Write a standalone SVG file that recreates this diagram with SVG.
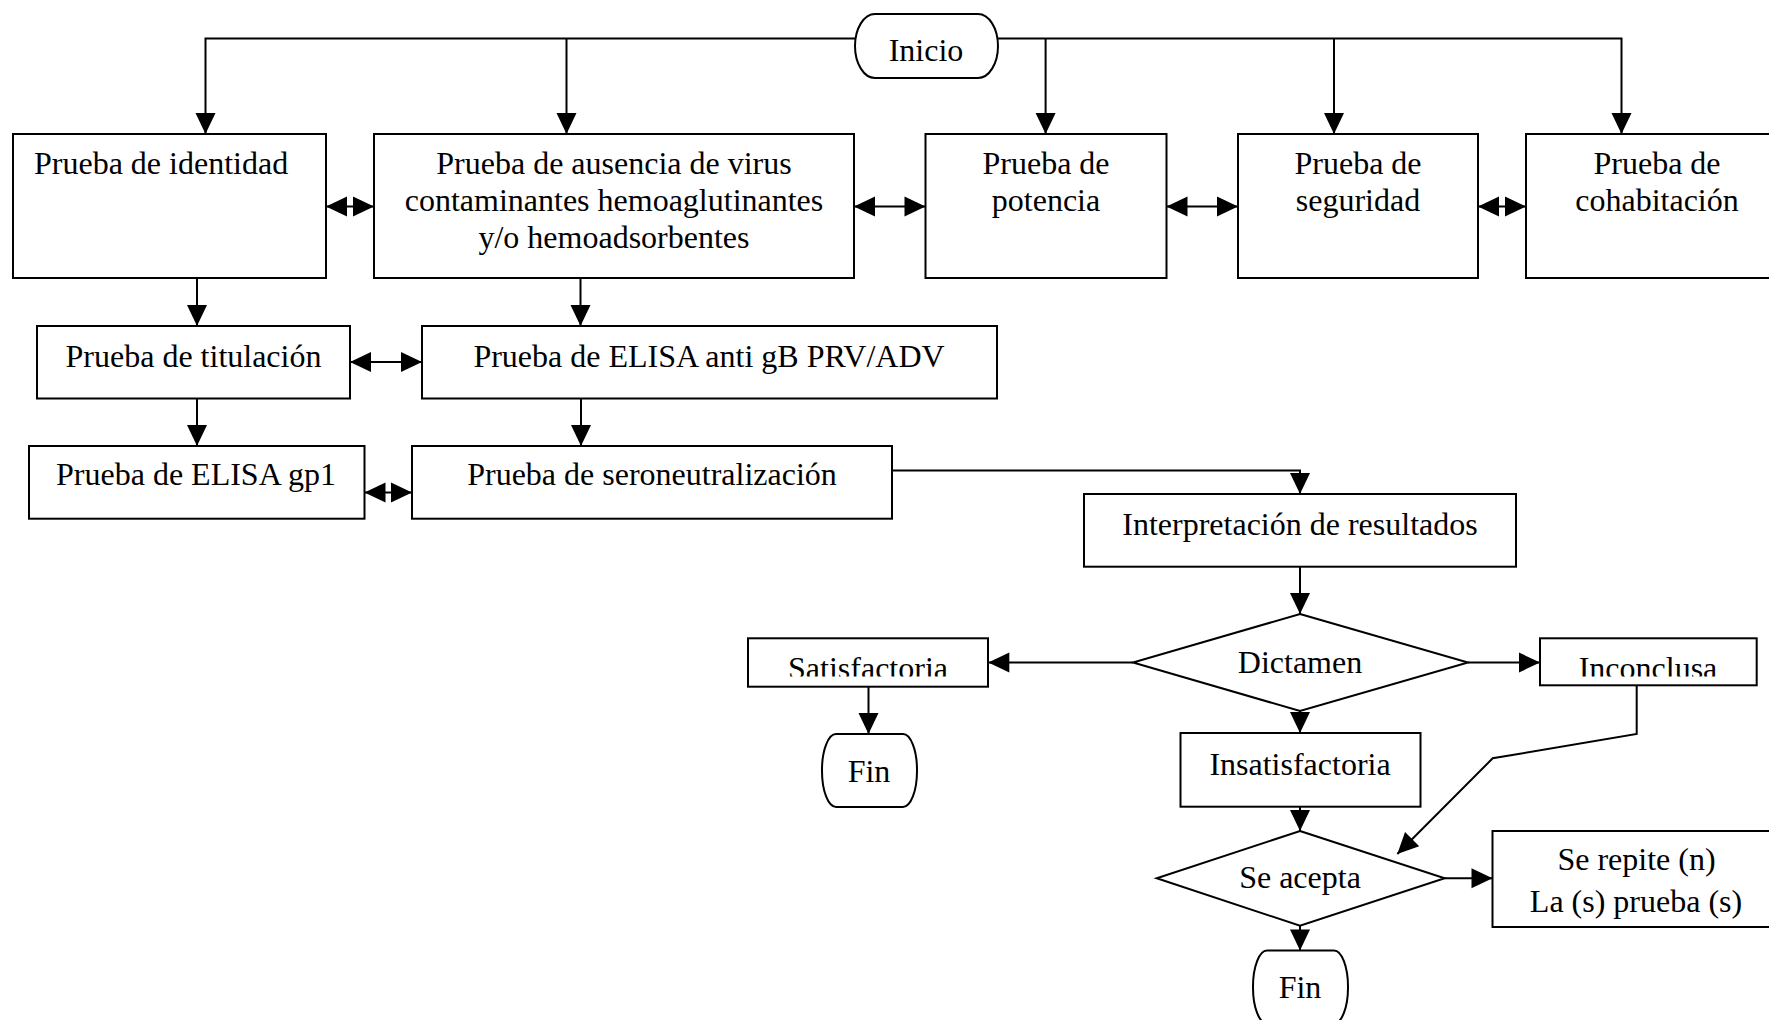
<svg xmlns="http://www.w3.org/2000/svg" width="1769" height="1020" viewBox="0 0 1769 1020">
<style>
.b{fill:#fff;stroke:#000;stroke-width:2}
.t{font-family:"Liberation Serif","Times New Roman",serif;font-size:32px;fill:#000;text-anchor:middle}
.c{fill:none;stroke:#000;stroke-width:2}
.a{marker-end:url(#ah)}
.d{marker-start:url(#ah);marker-end:url(#ah)}
</style>
<defs>
<marker id="ah" markerUnits="userSpaceOnUse" markerWidth="21" markerHeight="20" refX="21" refY="10" orient="auto-start-reverse" overflow="visible">
<path d="M0,0 L21,10 L0,20 Z" fill="#000"/>
</marker>
<clipPath id="cs"><rect x="748" y="638" width="240" height="38.5"/></clipPath>
<clipPath id="ci"><rect x="1540" y="638" width="217" height="38.5"/></clipPath>
</defs>

<g id="connectors">
<path class="c a" d="M855,38.5 H205.5 V134"/>
<path class="c a" d="M566.5,38.5 V134"/>
<path class="c a" d="M998,38.5 H1621.5 V134"/>
<path class="c a" d="M1045.6,38.5 V134"/>
<path class="c a" d="M1334,38.5 V134"/>
<path class="c d" d="M326,206.5 H374"/>
<path class="c d" d="M854,206.5 H925.5"/>
<path class="c d" d="M1166.5,206.5 H1238"/>
<path class="c d" d="M1478,206.5 H1526"/>
<path class="c a" d="M197,278 V326"/>
<path class="c a" d="M580.5,278 V326"/>
<path class="c d" d="M350,362 H422"/>
<path class="c a" d="M197,398.5 V446"/>
<path class="c a" d="M581,398.5 V446"/>
<path class="c d" d="M364.5,492.5 H412"/>
<path class="c a" d="M892,470.5 H1300 V494"/>
<path class="c a" d="M1300,566.7 V614"/>
<path class="c a" d="M1133,662.5 H988.3"/>
<path class="c a" d="M1468,662.5 H1540"/>
<path class="c a" d="M868.5,686.7 V734"/>
<path class="c a" d="M1300,710.7 V733"/>
<path class="c a" d="M1636.7,685 V734 L1492.7,758.3 L1397.3,854"/>
<path class="c a" d="M1300,806.7 V831"/>
<path class="c a" d="M1444.7,878.3 H1492.5"/>
<path class="c a" d="M1300,925.7 V950.5"/>
</g>

<g id="inicio"><rect class="b" x="855" y="14" width="143" height="64" rx="20" ry="32"/><text class="t" x="926" y="61">Inicio</text></g>
<g id="identidad"><rect class="b" x="13" y="134" width="313" height="144"/><text class="t" x="34" y="174" style="text-anchor:start">Prueba de identidad</text></g>
<g id="ausencia"><rect class="b" x="374" y="134" width="480" height="144"/><text class="t" x="614" y="174">Prueba de ausencia de virus</text><text class="t" x="614" y="211">contaminantes hemoaglutinantes</text><text class="t" x="614" y="248">y/o hemoadsorbentes</text></g>
<g id="potencia"><rect class="b" x="925.5" y="134" width="241" height="144"/><text class="t" x="1046" y="174">Prueba de</text><text class="t" x="1046" y="211">potencia</text></g>
<g id="seguridad"><rect class="b" x="1238" y="134" width="240" height="144"/><text class="t" x="1358" y="174">Prueba de</text><text class="t" x="1358" y="211">seguridad</text></g>
<g id="cohabitacion"><rect class="b" x="1526" y="134" width="270" height="144"/><text class="t" x="1657" y="174">Prueba de</text><text class="t" x="1657" y="211">cohabitación</text></g>
<g id="titulacion"><rect class="b" x="37" y="326" width="313" height="72.5"/><text class="t" x="193.5" y="367">Prueba de titulación</text></g>
<g id="elisa-anti"><rect class="b" x="422" y="326" width="575" height="72.5"/><text class="t" x="709" y="367">Prueba de ELISA anti gB PRV/ADV</text></g>
<g id="elisa-gp1"><rect class="b" x="29" y="446" width="335.5" height="72.7"/><text class="t" x="196" y="485">Prueba de ELISA gp1</text></g>
<g id="sero"><rect class="b" x="412" y="446" width="480" height="72.7"/><text class="t" x="652" y="485">Prueba de seroneutralización</text></g>
<g id="interpretacion"><rect class="b" x="1084" y="494" width="432" height="72.7"/><text class="t" x="1300" y="535">Interpretación de resultados</text></g>
<g id="dictamen"><polygon class="b" points="1300,614 1468,662.5 1300,711 1133,662.5"/><text class="t" x="1300" y="673">Dictamen</text></g>
<g id="satisfactoria"><rect class="b" x="748" y="638.3" width="240" height="48.4"/><text class="t" x="868" y="679" clip-path="url(#cs)">Satisfactoria</text></g>
<g id="inconclusa"><rect class="b" x="1540" y="638.3" width="216.7" height="47"/><text class="t" x="1648" y="679" clip-path="url(#ci)">Inconclusa</text></g>
<g id="fin1"><rect class="b" x="822" y="734" width="95" height="73" rx="14" ry="36"/><text class="t" x="869" y="782">Fin</text></g>
<g id="insatisfactoria"><rect class="b" x="1180.5" y="733" width="240" height="73.7"/><text class="t" x="1300" y="775">Insatisfactoria</text></g>
<g id="se-acepta"><polygon class="b" points="1300,831 1444.7,878.3 1300,925.7 1156.7,878.3"/><text class="t" x="1300" y="888">Se acepta</text></g>
<g id="se-repite"><rect class="b" x="1492.5" y="831" width="300" height="96"/><text class="t" x="1636.5" y="870">Se repite (n)</text><text class="t" x="1636" y="912">La (s) prueba (s)</text></g>
<g id="fin2"><rect class="b" x="1253" y="950.5" width="95" height="73" rx="14" ry="36"/><text class="t" x="1300" y="998">Fin</text></g>
</svg>
